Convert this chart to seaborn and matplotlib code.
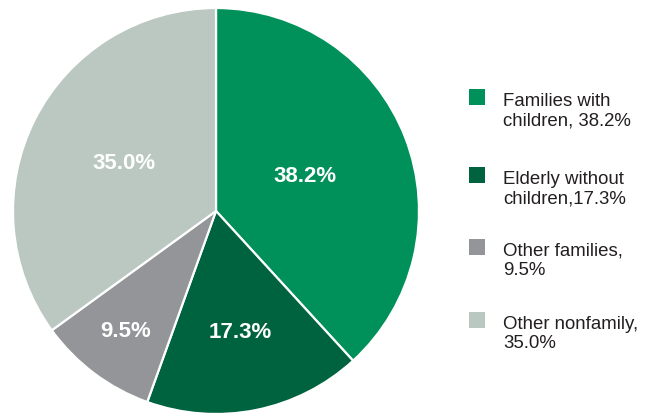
import numpy as np
import matplotlib
matplotlib.use("Agg")
import matplotlib.pyplot as plt
from matplotlib.patches import Rectangle
import seaborn as sns

# Household composition shares (percent)
categories = ["Families with children", "Elderly without children",
              "Other families", "Other nonfamily"]
shares = [38.2, 17.3, 9.5, 35.0]
legend_labels = ["Families with\nchildren, 38.2%", "Elderly without\nchildren,17.3%",
                 "Other families,\n9.5%", "Other nonfamily,\n35.0%"]
colors = ["#00915A", "#00633F", "#949599", "#BAC8C1"]

sns.set_theme(style="white")
plt.rcParams["font.family"] = ["Liberation Sans", "DejaVu Sans"]

W, H = 647, 413
fig = plt.figure(figsize=(W / 100, H / 100), dpi=100)
fig.patch.set_facecolor("white")

# square axes holding the pie (pixel box: x 13..419, y 8..414 from top)
ax = fig.add_axes([13 / W, (H - 414) / H, 406 / W, 406 / H])
palette = sns.color_palette(colors)
wedges, _ = ax.pie(shares, colors=palette, startangle=90, counterclock=False,
                   radius=1.0,
                   wedgeprops=dict(edgecolor="white", linewidth=1.6))
ax.set_xlim(-1, 1)
ax.set_ylim(-1, 1)
ax.set_aspect("auto")
ax.axis("off")

# value labels inside each wedge
label_dist = [0.47, 0.61, 0.74, 0.51]
for w, v, d in zip(wedges, shares, label_dist):
    ang = np.deg2rad((w.theta1 + w.theta2) / 2)
    ax.text(d * np.cos(ang), d * np.sin(ang), f"{v:.1f}%",
            ha="center", va="center", color="white",
            fontsize=16, fontweight="bold")

# legend: colour square beside two-line label
legend_y = [89, 167, 239, 312]  # top of each square, px from top
for col, lab, y in zip(palette, legend_labels, legend_y):
    fig.add_artist(Rectangle((469 / W, 1 - (y + 16) / H), 16 / W, 16 / H,
                             transform=fig.transFigure, facecolor=col,
                             edgecolor="none"))
    # baseline of the second line of the label
    fig.text(503 / W, 1 - (y + 36) / H, lab, ha="left", va="baseline",
             fontsize=13.4, color="#231F20", linespacing=1.16)

fig.savefig("out.png", dpi=100, facecolor="white")
